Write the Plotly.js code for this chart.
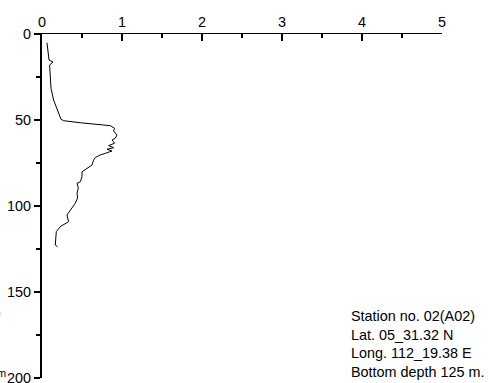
<!DOCTYPE html>
<html>
<head>
<meta charset="utf-8">
<script src="https://cdn.plot.ly/plotly-3.0.1.min.js"></script>
<style>html,body{margin:0;padding:0;background:#fff;}#chart{width:494px;height:383px;}</style>
</head>
<body>
<div id="chart"></div>
<script>
// Profile values (x) against depth in metres (y)
const values = [0.0625, 0.0875, 0.1375, 0.095, 0.1125, 0.145, 0.2375, 0.27, 0.479, 0.854, 0.9075, 0.895, 0.9375, 0.916, 0.875, 0.9075, 0.8325, 0.895, 0.8125, 0.875, 0.791, 0.729, 0.666, 0.645, 0.625, 0.5625, 0.5, 0.5, 0.479, 0.4375, 0.454, 0.4375, 0.445, 0.416, 0.3625, 0.3125, 0.3325, 0.27, 0.229, 0.179, 0.166, 0.195];
const depths = [5.1, 15.1, 16.3, 18.0, 31.6, 38.4, 49.6, 50.4, 51.6, 53.3, 54.8, 56.4, 58.7, 60.6, 61.6, 63.5, 64.9, 66.1, 67.0, 68.0, 69.4, 70.3, 71.8, 73.3, 76.2, 78.1, 80.1, 83.0, 85.9, 86.8, 89.5, 92.6, 95.3, 98.4, 102.3, 105.2, 109.1, 111.0, 112.0, 114.9, 122.7, 123.7];
const xTicks = [0, 1, 2, 3, 4, 5];
const yTicks = [0, 50, 100, 150, 200];
const infoLines = ["Station no. 02(A02)", "Lat. 05_31.32 N", "Long. 112_19.38 E", "Bottom depth 125 m."];

const font = {family: "Arial, 'Liberation Sans', sans-serif", size: 14.4, color: "#000"};

Plotly.newPlot("chart", [{
  x: values, y: depths, type: "scatter", mode: "lines",
  line: {color: "#000", width: 1}, hoverinfo: "none"
}], {
  width: 494, height: 383,
  margin: {l: 42, r: 52, t: 34, b: 5, pad: 0},
  paper_bgcolor: "#fff", plot_bgcolor: "#fff",
  showlegend: false,
  font: font,
  xaxis: {
    side: "top", range: [0, 5], tickvals: xTicks, ticktext: xTicks.map(String),
    showgrid: false, zeroline: false, showline: true, linecolor: "#000", linewidth: 1.5,
    ticks: "inside", ticklen: 7, tickwidth: 1.5, tickcolor: "#000",
    minor: {dtick: 0.5, ticks: "inside", ticklen: 4, tickwidth: 1.5, tickcolor: "#000", showgrid: false},
    tickfont: font, fixedrange: true, ticklabeloverflow: "allow"
  },
  yaxis: {
    range: [200, 0], tickvals: yTicks, ticktext: yTicks.map(String),
    showgrid: false, zeroline: false, showline: true, linecolor: "#000", linewidth: 2,
    ticks: "outside", ticklen: 6, tickwidth: 1.5, tickcolor: "#000",
    minor: {dtick: 25, ticks: "outside", ticklen: 4, tickwidth: 1.5, tickcolor: "#000", showgrid: false},
    tickfont: font, fixedrange: true, ticklabeloverflow: "allow"
  },
  annotations: [
    {xref: "paper", yref: "paper", x: 0.767, y: -0.012, xanchor: "left", yanchor: "bottom",
     align: "left", showarrow: false, text: infoLines.join("<br>"), font: font},
    {xref: "paper", yref: "paper", x: -0.097, y: 0.189, xanchor: "right", yanchor: "middle",
     showarrow: false, text: ")", font: font},
    {xref: "paper", yref: "paper", x: -0.084, y: 0.014, xanchor: "right", yanchor: "middle",
     showarrow: false, text: "m", font: {family: font.family, size: 11, color: "#000"}}
  ]
}, {displayModeBar: false, staticPlot: true});
</script>
</body>
</html>
